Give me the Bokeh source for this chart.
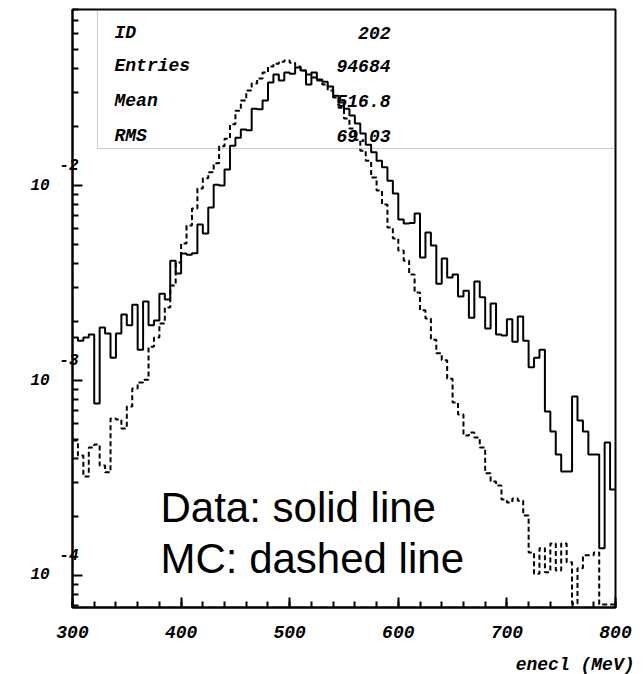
import numpy as np
from bokeh.plotting import figure
from bokeh.models import (Range1d, FixedTicker, CustomJSTickFormatter, LabelSet, Label,
                          BoxAnnotation, ColumnDataSource, Title)
from bokeh.core.properties import value
from bokeh.embed import file_html
from bokeh.resources import INLINE

# ---------------- data ----------------
bin_lo = 300.0
bin_hi = 800.0
n_bins = 100

data_counts = [
    1.66e-3, 1.60e-3, 1.66e-3, 1.72e-3, 7.62e-4, 1.87e-3, 1.74e-3, 1.31e-3, 1.74e-3, 2.18e-3,
    1.92e-3, 2.45e-3, 1.44e-3, 2.54e-3, 1.92e-3, 2.03e-3, 2.79e-3, 2.60e-3, 4.12e-3, 3.54e-3,
    4.48e-3, 4.42e-3, 4.50e-3, 6.31e-3, 5.67e-3, 7.71e-3, 1.01e-2, 1.00e-2, 1.21e-2, 1.60e-2,
    1.76e-2, 1.94e-2, 1.92e-2, 2.48e-2, 2.46e-2, 2.73e-2, 3.38e-2, 3.71e-2, 3.46e-2, 3.80e-2,
    3.75e-2, 4.03e-2, 3.89e-2, 3.30e-2, 3.80e-2, 3.50e-2, 3.41e-2, 3.22e-2, 2.89e-2, 2.67e-2,
    2.48e-2, 2.29e-2, 2.08e-2, 1.85e-2, 1.62e-2, 1.48e-2, 1.34e-2, 1.24e-2, 1.06e-2, 9.10e-3,
    6.69e-3, 6.39e-3, 6.42e-3, 7.18e-3, 4.27e-3, 5.74e-3, 4.92e-3, 3.14e-3, 4.22e-3, 3.38e-3,
    3.50e-3, 2.70e-3, 2.89e-3, 2.10e-3, 3.22e-3, 2.67e-3, 1.85e-3, 2.48e-3, 1.72e-3, 1.70e-3,
    2.06e-3, 1.58e-3, 2.13e-3, 1.60e-3, 1.17e-3, 1.31e-3, 1.44e-3, 6.93e-4, 5.48e-4, 4.17e-4,
    3.41e-4, 3.41e-4, 8.28e-4, 6.24e-4, 5.48e-4, 4.17e-4, 4.17e-4, 1.38e-4, 4.81e-4, 2.76e-4,
]

mc_counts = [
    4.92e-4, 4.12e-4, 3.22e-4, 4.53e-4, 4.70e-4, 3.66e-4, 3.38e-4, 6.39e-4, 6.31e-4, 5.67e-4,
    7.36e-4, 9.10e-4, 9.77e-4, 1.01e-3, 1.49e-3, 1.66e-3, 1.96e-3, 2.37e-3, 3.07e-3, 4.03e-3,
    5.04e-3, 6.24e-3, 7.62e-3, 9.65e-3, 1.09e-2, 1.17e-2, 1.30e-2, 1.59e-2, 1.74e-2, 2.06e-2,
    2.42e-2, 2.73e-2, 3.07e-2, 3.34e-2, 3.54e-2, 3.80e-2, 4.08e-2, 4.22e-2, 4.32e-2, 4.38e-2,
    4.27e-2, 4.08e-2, 3.89e-2, 3.71e-2, 3.58e-2, 3.46e-2, 3.30e-2, 3.07e-2, 2.83e-2, 2.51e-2,
    2.21e-2, 1.96e-2, 1.72e-2, 1.51e-2, 1.34e-2, 1.10e-2, 9.43e-3, 7.99e-3, 6.09e-3, 5.35e-3,
    4.64e-3, 4.12e-3, 3.50e-3, 2.83e-3, 2.29e-3, 2.08e-3, 1.62e-3, 1.38e-3, 1.27e-3, 1.02e-3,
    7.71e-4, 6.69e-4, 5.22e-4, 5.41e-4, 5.10e-4, 4.53e-4, 3.34e-4, 3.03e-4, 2.89e-4, 2.45e-4,
    2.37e-4, 2.48e-4, 2.42e-4, 2.03e-4, 1.31e-4, 1.02e-4, 1.38e-4, 1.04e-4, 1.46e-4, 1.06e-4,
    1.46e-4, 1.17e-4, 7.18e-5, 1.09e-4, 1.27e-4, 1.27e-4, 1.31e-4, 7.10e-5, 7.10e-5, 7.10e-5,
]

x_tick_values = [300, 400, 500, 600, 700, 800]
x_tick_labels = ["300", "400", "500", "600", "700", "800"]
y_tick_values = [1e-4, 1e-3, 1e-2]
y_tick_base = ["10", "10", "10"]
y_tick_exp = ["-4", "-3", "-2"]

stat_names = ["ID", "Entries", "Mean", "RMS"]
stat_values = ["202", "94684", "516.8", "69.03"]

x_title = "enecl (MeV)"
note_lines = ["Data: solid line", "MC: dashed line"]

y_min, y_max = 6.85e-5, 0.08

# ---------------- layout geometry (pixels) ----------------
W, H = 644, 674
frame_left, frame_right, frame_top, frame_bottom = 72, 615, 9, 607
frame_w = frame_right - frame_left
frame_h = frame_bottom - frame_top


def px_to_x(px):
    return bin_lo + (px - frame_left) * (bin_hi - bin_lo) / frame_w


def px_to_y(py):
    frac = (py - frame_top) / frame_h
    return y_max / 10 ** (frac * np.log10(y_max / y_min))


# ---------------- histogram steps ----------------
edges = np.linspace(bin_lo, bin_hi, n_bins + 1)


def steps(vals):
    xs = np.repeat(edges, 2)[1:-1]
    ys = np.repeat(np.asarray(vals, dtype=float), 2)
    return xs, ys


paw_font = "Liberation Mono, DejaVu Sans Mono, monospace"
NB = "\u00a0"

p = figure(width=W, height=H, x_range=Range1d(bin_lo, bin_hi), y_range=Range1d(y_min, y_max),
           y_axis_type="log", output_backend="svg", toolbar_location=None,
           min_border_left=frame_left, min_border_right=W - frame_right,
           min_border_top=frame_top, min_border_bottom=H - frame_bottom)
p.xgrid.visible = False
p.ygrid.visible = False
p.outline_line_color = "black"
p.outline_line_width = 2
p.background_fill_color = "white"
p.border_fill_color = "white"

minor_y = [m * 10.0 ** e for e in range(-5, -1) for m in range(2, 10)]
minor_y = [v for v in minor_y if y_min <= v <= y_max]
p.yaxis.ticker = FixedTicker(ticks=y_tick_values, minor_ticks=minor_y)
p.xaxis.ticker = FixedTicker(ticks=x_tick_values, minor_ticks=list(range(300, 801, 20)))

for ax in (p.xaxis[0], p.yaxis[0]):
    ax.axis_line_width = 2
    ax.axis_line_color = "black"
    ax.major_tick_in = 10
    ax.major_tick_out = 0
    ax.minor_tick_in = 6
    ax.minor_tick_out = 0
    ax.major_tick_line_width = 2
    ax.minor_tick_line_width = 2
    ax.major_tick_line_color = "black"
    ax.minor_tick_line_color = "black"
    ax.major_label_text_font = paw_font
    ax.major_label_text_font_style = "bold italic"
    ax.major_label_text_color = "black"

# x tick labels from the axis itself (second blank line leaves room for the title)
x_lab = [t + "\n" + NB for t in x_tick_labels]
p.xaxis[0].formatter = CustomJSTickFormatter(
    args=dict(vals=x_tick_values, labs=x_lab),
    code="""
    for (let i = 0; i < vals.length; i++) { if (Math.abs(tick - vals[i]) < 1e-6) return labs[i]; }
    return '';
    """)
p.xaxis[0].major_label_text_font_size = "18px"
p.xaxis[0].major_label_standoff = 15
p.xaxis[0].major_label_text_line_height = 0.35

# y tick labels: exponent on the upper right of "10" (PAW style)
y_lab = [NB * 3 + e + "\n" + b + NB * 3 + "\n" + NB for b, e in zip(y_tick_base, y_tick_exp)]
p.yaxis[0].formatter = CustomJSTickFormatter(
    args=dict(vals=y_tick_values, labs=y_lab),
    code="""
    for (let i = 0; i < vals.length; i++) {
        if (Math.abs(Math.log10(tick) - Math.log10(vals[i])) < 1e-6) return labs[i];
    }
    return '';
    """)
p.yaxis[0].major_label_text_font_size = "16px"
p.yaxis[0].major_label_standoff = -6
p.yaxis[0].major_label_text_line_height = 1.1

xs, yd = steps(data_counts)
_, ym = steps(mc_counts)
p.line(xs, ym, line_color="black", line_width=2, line_dash="5 3")
p.line(xs, yd, line_color="black", line_width=2)

# stats box
p.add_layout(BoxAnnotation(left=px_to_x(97), bottom=px_to_y(148), fill_color=None,
                           line_color="#555555", line_width=1))

stat_offsets = [-23, -56, -91, -126]
src_names = ColumnDataSource(dict(x=[bin_lo] * 4, y=[y_max] * 4, t=stat_names, dy=stat_offsets))
src_vals = ColumnDataSource(dict(x=[bin_lo] * 4, y=[y_max] * 4, t=stat_values, dy=stat_offsets))
p.add_layout(LabelSet(x="x", y="y", text="t", source=src_names, x_offset=42, y_offset="dy",
                      text_align="left", text_baseline="middle", text_font=value(paw_font),
                      text_font_style="bold italic", text_font_size="18px", text_color="black"))
p.add_layout(LabelSet(x="x", y="y", text="t", source=src_vals, x_offset=318, y_offset="dy",
                      text_align="right", text_baseline="middle", text_font=value(paw_font),
                      text_font_style="bold italic", text_font_size="18px", text_color="black"))

# x axis title, right aligned under the axis
p.add_layout(Title(text=x_title, align="right", offset=-19, text_font=paw_font,
                   text_font_style="bold italic", text_font_size="18px", text_color="black",
                   standoff=0), "below")

# annotation
for line_text, dy in zip(note_lines, [100, 49]):
    p.add_layout(Label(x=bin_lo, y=y_min, text=line_text, x_offset=88, y_offset=dy,
                       text_align="left", text_baseline="alphabetic",
                       text_font="Liberation Sans", text_font_size="42px", text_color="black"))

open("out.html", "w").write(file_html(p, INLINE))
